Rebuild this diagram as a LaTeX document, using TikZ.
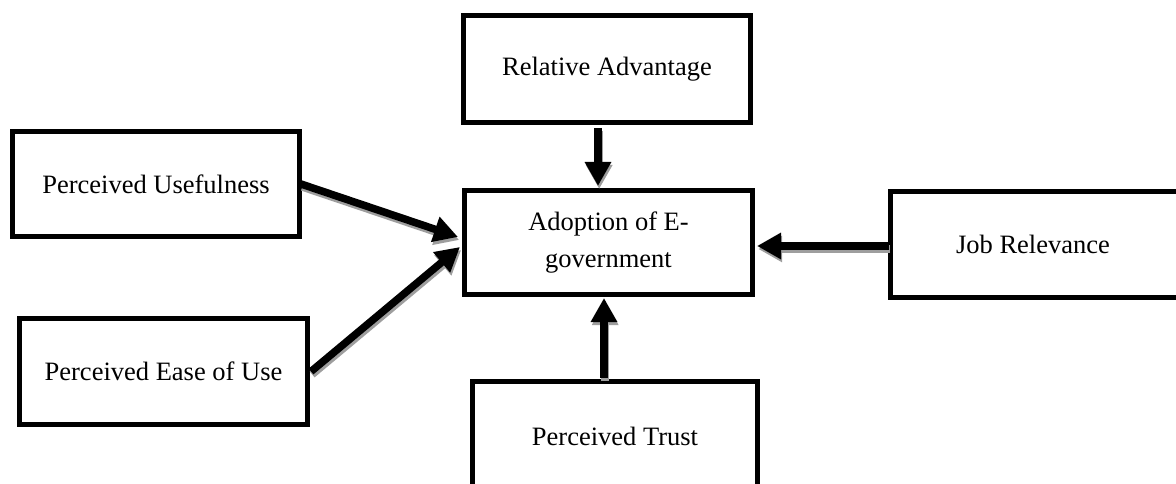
\documentclass[tikz,border=0pt]{standalone}
\usepackage{fontspec}
\setmainfont{Liberation Serif}
\usetikzlibrary{arrows.meta}
\tikzset{
  boxnode/.style={draw=black, line width=4.6pt, fill=white, rectangle, inner sep=0pt,
    font=\fontsize{26.5}{37}\selectfont, align=center},
  arr/.style={line width=7.5pt, -{Triangle[length=24pt,width=25pt]}},
  arrshadow/.style={arr, draw=black!38, fill=black!38, transform canvas={xshift=1.2pt,yshift=-3pt}}
}
\begin{document}
\begin{tikzpicture}[x=1pt,y=-1pt]
\useasboundingbox (0,0) rectangle (1176,484);
% boxes
\node[boxnode, minimum width=287.4pt, minimum height=105.4pt] (pu) at (156,184) {Perceived Usefulness};
\node[boxnode, minimum width=288.4pt, minimum height=106.4pt] (peu) at (163.5,371.5) {Perceived Ease of Use};
\node[boxnode, minimum width=287.4pt, minimum height=107.4pt] (ra) at (607,69) {Relative Advantage};
\node[boxnode, minimum width=288.4pt, minimum height=104.4pt] (ad) at (608.5,242.5) {Adoption of E-\\government};
\node[boxnode, minimum width=291.4pt, minimum height=106.4pt] (jr) at (1036,244.5) {\hspace*{-6pt}Job Relevance};
\node[boxnode, minimum width=285.4pt, minimum height=109.4pt] (pt) at (615,436) {Perceived Trust};
% named end points
\coordinate (puS) at ([xshift=-1pt]pu.east);
\coordinate (puT) at ([xshift=-4pt,yshift=5.5pt]ad.west);
\coordinate (peuS) at ([xshift=1pt]peu.east);
\coordinate (peuT) at ([xshift=-2pt,yshift=-4.5pt]ad.west);
\coordinate (raS) at ([xshift=-9pt,yshift=-3pt]ra.south);
\coordinate (raT) at ([xshift=-10.5pt,yshift=2pt]ad.north);
\coordinate (ptS) at ([xshift=-11pt,yshift=1pt]pt.north);
\coordinate (ptT) at ([xshift=-4.5pt,yshift=-1pt]ad.south);
\coordinate (jrS) at ([xshift=1pt,yshift=-1.5pt]jr.west);
\coordinate (jrT) at ([xshift=2pt,yshift=-3.5pt]ad.east);
% shadows
\draw[arrshadow] (puS) -- (puT);
\draw[arrshadow] (peuS) -- (peuT);
\draw[arrshadow] (raS) -- (raT);
\draw[arrshadow] (ptS) -- (ptT);
\draw[arrshadow] (jrS) -- (jrT);
% arrows
\draw[arr] (puS) -- (puT);
\draw[arr] (peuS) -- (peuT);
\draw[arr] (raS) -- (raT);
\draw[arr] (ptS) -- (ptT);
\draw[arr] (jrS) -- (jrT);
\end{tikzpicture}
\end{document}
